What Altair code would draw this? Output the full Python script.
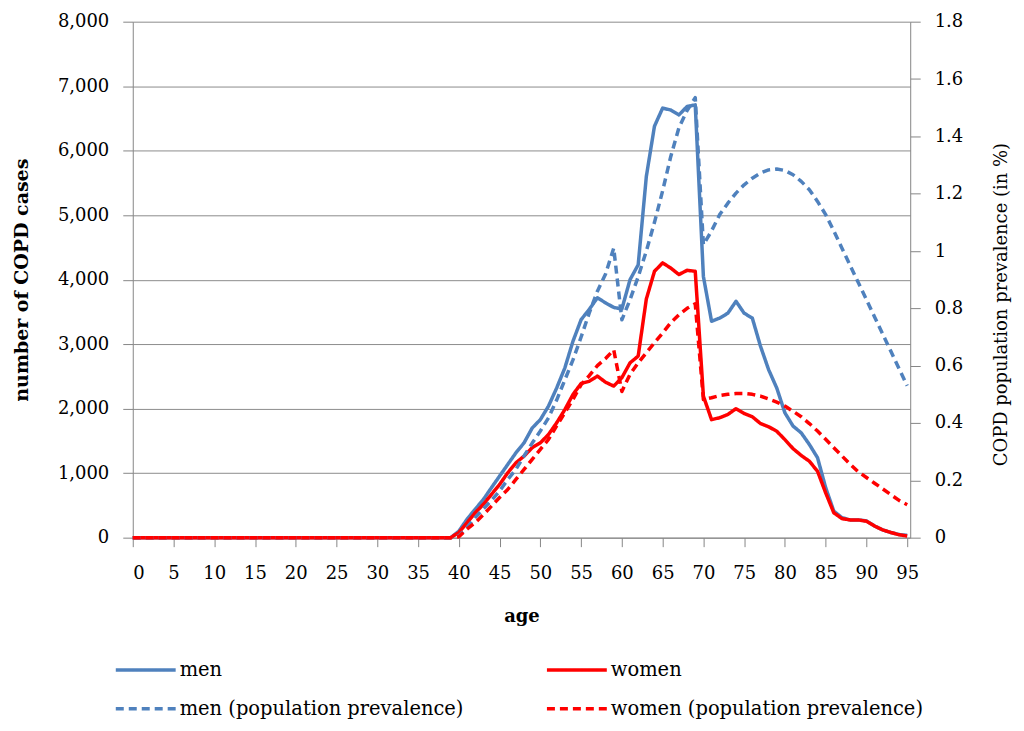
import altair as alt
import pandas as pd

ages = list(range(96))

men_cases = [0, 0, 0, 0, 0, 0, 0, 0, 0, 0,
             0, 0, 0, 0, 0, 0, 0, 0, 0, 0,
             0, 0, 0, 0, 0, 0, 0, 0, 0, 0,
             0, 0, 0, 0, 0, 0, 0, 0, 0, 0,
             100, 285, 440, 590, 775, 955, 1135, 1315, 1470, 1700,
             1830, 2040, 2320, 2630, 3045, 3380, 3540, 3720, 3640, 3570,
             3545, 4000, 4230, 5600, 6380, 6660, 6630, 6555, 6685, 6710,
             4050, 3355, 3405, 3480, 3665, 3480, 3405, 2970, 2605, 2320,
             1935, 1730, 1625, 1445, 1240, 775, 410, 310, 275, 275,
             260, 180, 120, 80, 50, 35]

women_cases = [0, 0, 0, 0, 0, 0, 0, 0, 0, 0,
               0, 0, 0, 0, 0, 0, 0, 0, 0, 0,
               0, 0, 0, 0, 0, 0, 0, 0, 0, 0,
               0, 0, 0, 0, 0, 0, 0, 0, 0, 0,
               80, 230, 385, 515, 670, 825, 1005, 1160, 1265, 1395,
               1470, 1600, 1780, 1985, 2220, 2390, 2425, 2505, 2410, 2350,
               2480, 2710, 2815, 3700, 4130, 4260, 4180, 4080, 4145, 4130,
               2195, 1830, 1860, 1910, 2000, 1925, 1875, 1770, 1720, 1650,
               1520, 1380, 1275, 1185, 1030, 695, 385, 295, 275, 275,
               255, 180, 120, 80, 45, 25]

men_prev = [0, 0, 0, 0, 0, 0, 0, 0, 0, 0,
            0, 0, 0, 0, 0, 0, 0, 0, 0, 0,
            0, 0, 0, 0, 0, 0, 0, 0, 0, 0,
            0, 0, 0, 0, 0, 0, 0, 0, 0, 0,
            0.006, 0.035, 0.07, 0.10, 0.13, 0.163, 0.203, 0.238, 0.285, 0.33,
            0.372, 0.418, 0.48, 0.55, 0.62, 0.70, 0.784, 0.86, 0.92, 1.01,
            0.76, 0.83, 0.91, 1.00, 1.10, 1.21, 1.33, 1.43, 1.49, 1.535,
            1.022, 1.07, 1.127, 1.167, 1.202, 1.231, 1.254, 1.272, 1.283, 1.286,
            1.281, 1.266, 1.243, 1.214, 1.173, 1.127, 1.07, 1.01, 0.95, 0.89,
            0.83, 0.77, 0.71, 0.65, 0.59, 0.53]

women_prev = [0, 0, 0, 0, 0, 0, 0, 0, 0, 0,
              0, 0, 0, 0, 0, 0, 0, 0, 0, 0,
              0, 0, 0, 0, 0, 0, 0, 0, 0, 0,
              0, 0, 0, 0, 0, 0, 0, 0, 0, 0,
              0.003, 0.03, 0.052, 0.08, 0.11, 0.14, 0.168, 0.203, 0.238, 0.273,
              0.308, 0.343, 0.39, 0.436, 0.482, 0.534, 0.565, 0.60, 0.625, 0.655,
              0.51, 0.57, 0.61, 0.645, 0.68, 0.714, 0.75, 0.778, 0.80, 0.816,
              0.482, 0.488, 0.496, 0.50, 0.503, 0.503, 0.50, 0.494, 0.484, 0.473,
              0.459, 0.441, 0.422, 0.398, 0.372, 0.343, 0.314, 0.285, 0.256, 0.23,
              0.21, 0.19, 0.17, 0.15, 0.13, 0.115]

series_names = ["men", "women", "men (population prevalence)", "women (population prevalence)"]
series_colors = ["#4F81BD", "#FF0000", "#4F81BD", "#FF0000"]
# legend fills column by column: men / men (prev.) in the first column
legend_order = ["men", "men (population prevalence)", "women", "women (population prevalence)"]
x_tick_values = list(range(0, 96, 5))
left_tick_values = [0, 1000, 2000, 3000, 4000, 5000, 6000, 7000, 8000]
right_tick_values = [0, 0.2, 0.4, 0.6, 0.8, 1.0, 1.2, 1.4, 1.6, 1.8]

FONT = "DejaVu Serif"

cases_df = pd.concat([
    pd.DataFrame({"age": ages, "value": men_cases, "series": series_names[0]}),
    pd.DataFrame({"age": ages, "value": women_cases, "series": series_names[1]}),
])
prev_df = pd.concat([
    pd.DataFrame({"age": ages, "value": men_prev, "series": series_names[2]}),
    pd.DataFrame({"age": ages, "value": women_prev, "series": series_names[3]}),
])

legend = alt.Legend(
    title=None, orient="none", legendX=-19, legendY=630, columns=2,
    values=legend_order,
    symbolType="stroke", symbolSize=3600, clipHeight=39, rowPadding=0,
    columnPadding=81, labelFont=FONT, labelFontSize=19.5, labelColor="black",
    labelLimit=500, labelOffset=2,
)

color = alt.Color("series:N", scale=alt.Scale(domain=series_names, range=series_colors), legend=legend)
dash = alt.StrokeDash("series:N", scale=alt.Scale(domain=series_names, range=[[1, 0], [1, 0], [8, 5], [8, 5]]), legend=legend)
swidth = alt.StrokeWidth("series:N", scale=alt.Scale(domain=series_names, range=[3.5, 3.5, 2, 2]), legend=legend)

x_enc = alt.X("age:Q", scale=alt.Scale(domain=[0, 95.37], nice=False, zero=False),
              axis=alt.Axis(title="age", values=x_tick_values, format="d", grid=False,
                            tickSize=9, labelPadding=18, titleFontWeight="bold",
                            titleFontSize=18, titlePadding=25))

solid = alt.Chart(cases_df).mark_line(strokeJoin="round").encode(
    x=x_enc,
    y=alt.Y("value:Q", scale=alt.Scale(domain=[0, 8000], nice=False),
            axis=alt.Axis(title="number of COPD cases", values=left_tick_values, format=",d",
                          grid=True, gridColor="#8c8c8c", gridWidth=1, tickSize=10,
                          labelPadding=14, titleFontWeight="bold", titleFontSize=19,
                          titlePadding=26)),
    color=color, strokeDash=dash, strokeWidth=swidth,
    order="age:Q",
)

dashed = alt.Chart(prev_df).mark_line(strokeJoin="round").encode(
    x=x_enc,
    y=alt.Y("value:Q", scale=alt.Scale(domain=[0, 1.8], nice=False),
            axis=alt.Axis(title="COPD population prevalence (in %)", orient="right",
                          values=right_tick_values, format=".1~f", grid=False, tickSize=10,
                          labelPadding=14, titleFontWeight="normal", titleFontSize=18,
                          titleAngle=270, titlePadding=48, titleY=283)),
    color=color, strokeDash=dash, strokeWidth=swidth,
    order="age:Q",
)

chart = alt.layer(solid, dashed).resolve_scale(y="independent").properties(
    width=779, height=517,
    padding={"left": 4, "top": 4, "right": 5, "bottom": 0},
    background="white",
).configure_axis(
    labelFont=FONT, titleFont=FONT, labelFontSize=18, labelColor="black",
    titleColor="black", domainColor="#868686", tickColor="#868686",
).configure_view(stroke="transparent")

chart.save("out.html", embed_options={"renderer": "svg", "actions": False})
